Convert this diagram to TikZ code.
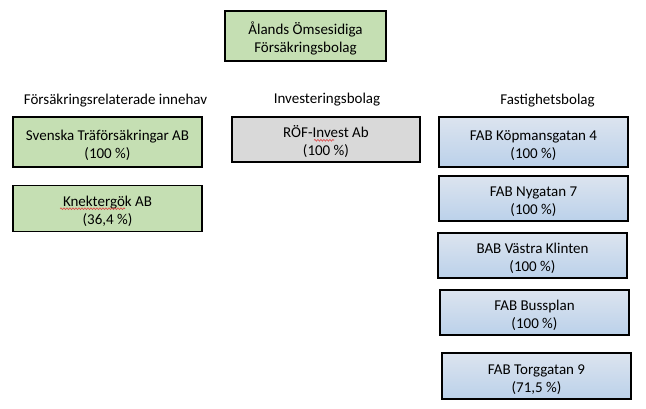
\documentclass[tikz,border=0pt]{standalone}
\usepackage{fontspec}
\setmainfont{Carlito}
\usetikzlibrary{decorations.pathmorphing}
\definecolor{boxgreen}{HTML}{C5DFB3}
\definecolor{boxgray}{HTML}{D9D9D9}
\definecolor{bluetop}{HTML}{DCE4EF}
\definecolor{bluebot}{HTML}{BBD1EA}
\definecolor{spellred}{HTML}{E04040}
\tikzset{
  company/.style={draw=black,line width=1.1pt,minimum width=189pt,minimum height=45pt,
    inner sep=0pt,align=center,font=\fontsize{15}{18}\selectfont,
    execute at begin node={\rule{0pt}{35pt}}},
  greenbox/.style={company,fill=boxgreen},
  graybox/.style={company,fill=boxgray},
  bluebox/.style={company,top color=bluetop,bottom color=bluebot},
  heading/.style={inner sep=0pt,font=\fontsize{15}{18}\selectfont},
  spelling/.style={spellred,line width=0.6pt,decorate,
    decoration={snake,amplitude=0.9pt,segment length=3pt}}
}

\begin{document}
\begin{tikzpicture}[x=1pt,y=-1pt]
\useasboundingbox (0,0) rectangle (646,409);

% Parent company
\node[greenbox,minimum width=161pt,minimum height=50pt] (parent) at (305.5,36)
  {Ålands Ömsesidiga\\Försäkringsbolag};

% Column headings
\node[heading] (insurance) at (115.5,100.5) {Försäkringsrelaterade innehav};
\node[heading] (investment) at (327,100) {Investeringsbolag};
\node[heading] (property) at (547.5,100.5) {Fastighetsbolag};

% Insurance holdings
\node[greenbox,minimum height=50pt] (svenska) at (107.5,142) {Svenska Träförsäkringar AB\\(100 \%)};
\node[greenbox,minimum height=46pt] (knekt) at (107.5,208.5) {Knektergök AB\\(36,4 \%)};

% Investment company
\node[graybox,minimum width=188pt] (rof) at (326,139.5) {RÖF-Invest Ab\\(100 \%)};

% Property companies
\node[bluebox,minimum height=50pt] (kop) at (533.5,142) {FAB Köpmansgatan 4\\(100 \%)};
\node[bluebox] (nyg) at (533.5,198.5) {FAB Nygatan 7\\(100 \%)};
\node[bluebox] (bab) at (532.5,255.5) {BAB Västra Klinten\\(100 \%)};
\node[bluebox] (buss) at (534.5,312.5) {FAB Bussplan\\(100 \%)};
\node[bluebox,minimum height=46pt] (torg) at (536.5,376) {FAB Torggatan 9\\(71,5 \%)};

% Spelling marks
\draw[spelling] (60,208.7) -- (125,208.7);
\draw[spelling] (314,140.3) -- (334,140.3);

\end{tikzpicture}
\end{document}
